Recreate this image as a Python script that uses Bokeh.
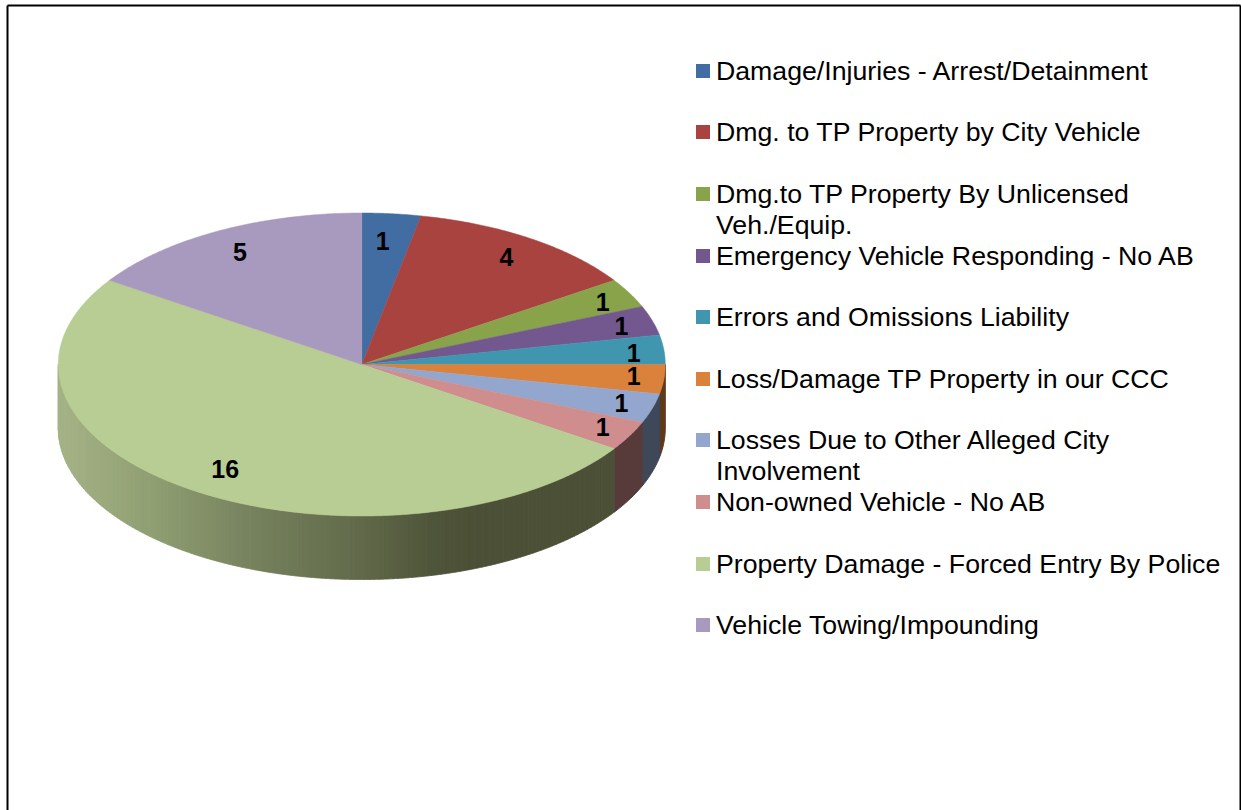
import numpy as np
from bokeh.plotting import figure
from bokeh.models import Range1d
from bokeh.core.properties import value
from bokeh.embed import file_html
from bokeh.resources import INLINE

categories = ["Damage/Injuries - Arrest/Detainment", "Dmg. to TP Property by City Vehicle",
              "Dmg.to TP Property By Unlicensed\nVeh./Equip.", "Emergency Vehicle Responding - No AB",
              "Errors and Omissions Liability", "Loss/Damage TP Property in our CCC",
              "Losses Due to Other Alleged City\nInvolvement", "Non-owned Vehicle - No AB",
              "Property Damage - Forced Entry By Police", "Vehicle Towing/Impounding"]
counts = [1, 4, 1, 1, 1, 1, 1, 1, 16, 5]
top_colors = ["#426DA3", "#A84340", "#89A34B", "#72588F", "#3F96AE",
              "#DA813B", "#93A6CE", "#CF8E8D", "#B8CD93", "#A899BE"]
wall_colors = ["#2E4C72", "#752F2D", "#5F7234", "#4F3D64", "#2C6979",
               "#5F3A1A", "#3E4859", "#573B3B", "#4C5238", "#756B85"]

W, H = 1241, 810
CX, CY, RX, RY, DEPTH = 361.3, 364, 303.5, 151.5, 63.5
LABEL_K = [(.70, .82), (.858, .856), (.90, .88), (.894, .88), (.90, .80),
           (.90, .80), (.894, .88), (.90, .88), (.81, .83), (.852, .843)]
LEGEND_Y = [70.5, 131.5, 193.5, 255.5, 316.5, 378.5, 439.5, 501.5, 563.5, 624.5]
LEGEND_PITCH = 31

p = figure(width=W, height=H, x_range=Range1d(0, W), y_range=Range1d(H, 0),
           output_backend="svg", toolbar_location=None, min_border=0,
           outline_line_color=None, background_fill_color="white")
p.axis.visible = False
p.grid.visible = False

# chart frame
p.multi_line([[7, 7], [7, 1240], [1240, 1240]], [[H + 5, 5], [5, 5], [5, H + 5]],
             line_color="black", line_width=2)

fractions = np.cumsum([0] + counts) / sum(counts)
angles = fractions * 2 * np.pi   # clockwise from 12 o'clock


def px(a, k=1.0):
    return CX + RX * k * np.sin(a)


def py(a, k=1.0):
    return CY - RY * k * np.cos(a)


def shade(x):
    stops_x = [58, 150, 250, 350, 430, 470]
    stops = np.array([[0xA5, 0xB3, 0x86], [0x90, 0x9F, 0x72], [0x76, 0x82, 0x5E],
                      [0x63, 0x6C, 0x4C], [0x4F, 0x55, 0x3A], [0x4B, 0x50, 0x36]])
    c = [np.interp(x, stops_x, stops[:, i]) for i in range(3)]
    return "#%02x%02x%02x" % tuple(int(round(v)) for v in c)


# side wall: only the front half of the disc is visible
for i, n in enumerate(counts):
    a0, a1 = max(angles[i], np.pi / 2), min(angles[i + 1], 3 * np.pi / 2)
    if a1 <= a0:
        continue
    strips = 160 if n > 4 else 1
    edges = np.linspace(a0, a1, strips + 1)
    xs, ys, cols = [], [], []
    for e0, e1 in zip(edges[:-1], edges[1:]):
        t = np.linspace(e0, e1, 12)
        xs.append(np.r_[px(t), px(t[::-1])].tolist())
        ys.append(np.r_[py(t), py(t[::-1]) + DEPTH].tolist())
        cols.append(shade(px((e0 + e1) / 2)) if strips > 1 else wall_colors[i])
    p.patches(xs, ys, fill_color=cols, line_color=cols, line_width=1.0)

# top face
for i in range(len(counts)):
    t = np.linspace(angles[i], angles[i + 1], max(24, counts[i] * 24))
    p.patch(np.r_[CX, px(t)], np.r_[CY, py(t)], fill_color=top_colors[i],
            line_color=top_colors[i], line_width=0.5)

# value labels
mids = (angles[:-1] + angles[1:]) / 2
p.text([px(m, k[0]) for m, k in zip(mids, LABEL_K)],
       [py(m, k[1]) for m, k in zip(mids, LABEL_K)],
       text=[str(c) for c in counts], text_font=value("Liberation Sans"),
       text_font_style="bold", text_font_size="25px", text_color="black",
       text_align="center", text_baseline="middle")

# legend
p.scatter([702.5] * len(categories), LEGEND_Y, marker="square", size=14,
          fill_color=top_colors, line_color=None)
tx, ty, tt = [], [], []
for cat, y in zip(categories, LEGEND_Y):
    for j, line in enumerate(cat.split("\n")):
        tx.append(715.5); ty.append(y + j * LEGEND_PITCH); tt.append(line)
p.text(tx, ty, text=tt, text_font=value("Liberation Sans"), text_font_size="26.7px",
       text_color="black", text_align="left", text_baseline="middle")

open("out.html", "w").write(file_html(p, INLINE))
